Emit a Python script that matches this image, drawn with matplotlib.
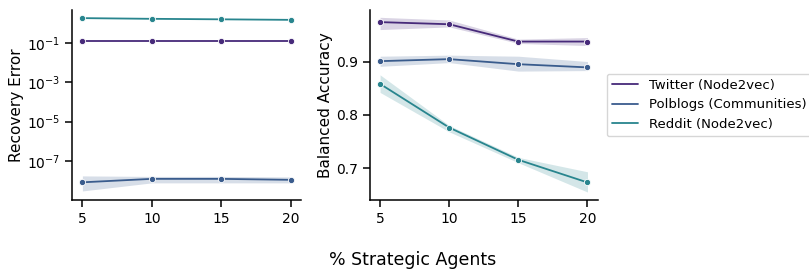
import numpy as np
import matplotlib
matplotlib.use("Agg")
import matplotlib.pyplot as plt
import seaborn as sns

sns.set_style("ticks")
plt.rcParams['font.family'] = ['DejaVu Sans']
plt.rcParams['text.color'] = 'black'
plt.rcParams['axes.labelcolor'] = 'black'
plt.rcParams['xtick.color'] = 'black'
plt.rcParams['ytick.color'] = 'black'
plt.rcParams['axes.edgecolor'] = 'black'

agents = [5, 10, 15, 20]
series = ["Twitter (Node2vec)", "Polblogs (Communities)", "Reddit (Node2vec)"]
colors = ["#472a7a", "#3a5c8d", "#28858e"]

# recovery error (log scale)
err_twitter = [0.135, 0.135, 0.135, 0.135]
err_polblogs = [8.0e-9, 1.2e-8, 1.2e-8, 1.07e-8]
err_reddit = [1.9, 1.75, 1.65, 1.55]
err_lo = {
    "Polblogs (Communities)": [2.9e-9, 7.5e-9, 7.5e-9, 7.5e-9],
}
err_hi = {
    "Polblogs (Communities)": [1.7e-8, 1.6e-8, 1.6e-8, 1.5e-8],
}

# balanced accuracy
acc_twitter = [0.974, 0.970, 0.9375, 0.9375]
acc_polblogs = [0.9007, 0.9045, 0.895, 0.889]
acc_reddit = [0.858, 0.776, 0.7155, 0.673]
acc_lo_twitter = [0.960, 0.965, 0.934, 0.930]
acc_hi_twitter = [0.983, 0.978, 0.942, 0.945]
acc_lo_polblogs = [0.891, 0.898, 0.882, 0.883]
acc_hi_polblogs = [0.910, 0.912, 0.910, 0.900]
acc_lo_reddit = [0.842, 0.768, 0.710, 0.655]
acc_hi_reddit = [0.875, 0.780, 0.720, 0.693]

fig = plt.figure(figsize=(8.09, 2.74), dpi=100)
ax1 = fig.add_axes([0.089, 0.27, 0.283, 0.694])
ax2 = fig.add_axes([0.457, 0.27, 0.282, 0.694])

errs = [err_twitter, err_polblogs, err_reddit]
for name, vals, c in zip(series, errs, colors):
    ax1.plot(agents, vals, color=c, marker="o", markersize=4.5,
             markeredgecolor="white", markeredgewidth=0.6, lw=1.3)
    if name in err_lo:
        ax1.fill_between(agents, err_lo[name], err_hi[name], color=c, alpha=0.2, lw=0)
ax1.set_yscale("log")
ax1.set_ylim(10**-9.0, 10**0.7)
ax1.set_yticks([1e-7, 1e-5, 1e-3, 1e-1])
ax1.minorticks_off()
ax1.set_ylabel("Recovery Error", fontsize=11, labelpad=2)

accs = [acc_twitter, acc_polblogs, acc_reddit]
los = [acc_lo_twitter, acc_lo_polblogs, acc_lo_reddit]
his = [acc_hi_twitter, acc_hi_polblogs, acc_hi_reddit]
for name, vals, lo, hi, c in zip(series, accs, los, his, colors):
    ax2.fill_between(agents, lo, hi, color=c, alpha=0.2, lw=0)
    ax2.plot(agents, vals, color=c, marker="o", markersize=4.5,
             markeredgecolor="white", markeredgewidth=0.6, lw=1.3, label=name)
ax2.set_ylim(0.64, 0.997)
ax2.set_yticks([0.7, 0.8, 0.9])
ax2.set_ylabel("Balanced Accuracy", fontsize=11, labelpad=2)

for ax in (ax1, ax2):
    ax.set_xticks(agents)
    ax.set_xlim(4.25, 20.75)
    ax.tick_params(labelsize=10, length=5, width=1.1)
    for s in ax.spines.values():
        s.set_linewidth(1.1)
    sns.despine(ax=ax)

handles = [plt.Line2D([], [], color=c, lw=1.3) for c in colors]
ax2.legend(handles, series, loc="center left", bbox_to_anchor=(1.01, 0.5),
           fontsize=9.5, frameon=True)

fig.supxlabel("% Strategic Agents", fontsize=12.5, x=0.51, y=0.02)
fig.savefig("out.png", dpi=100)
